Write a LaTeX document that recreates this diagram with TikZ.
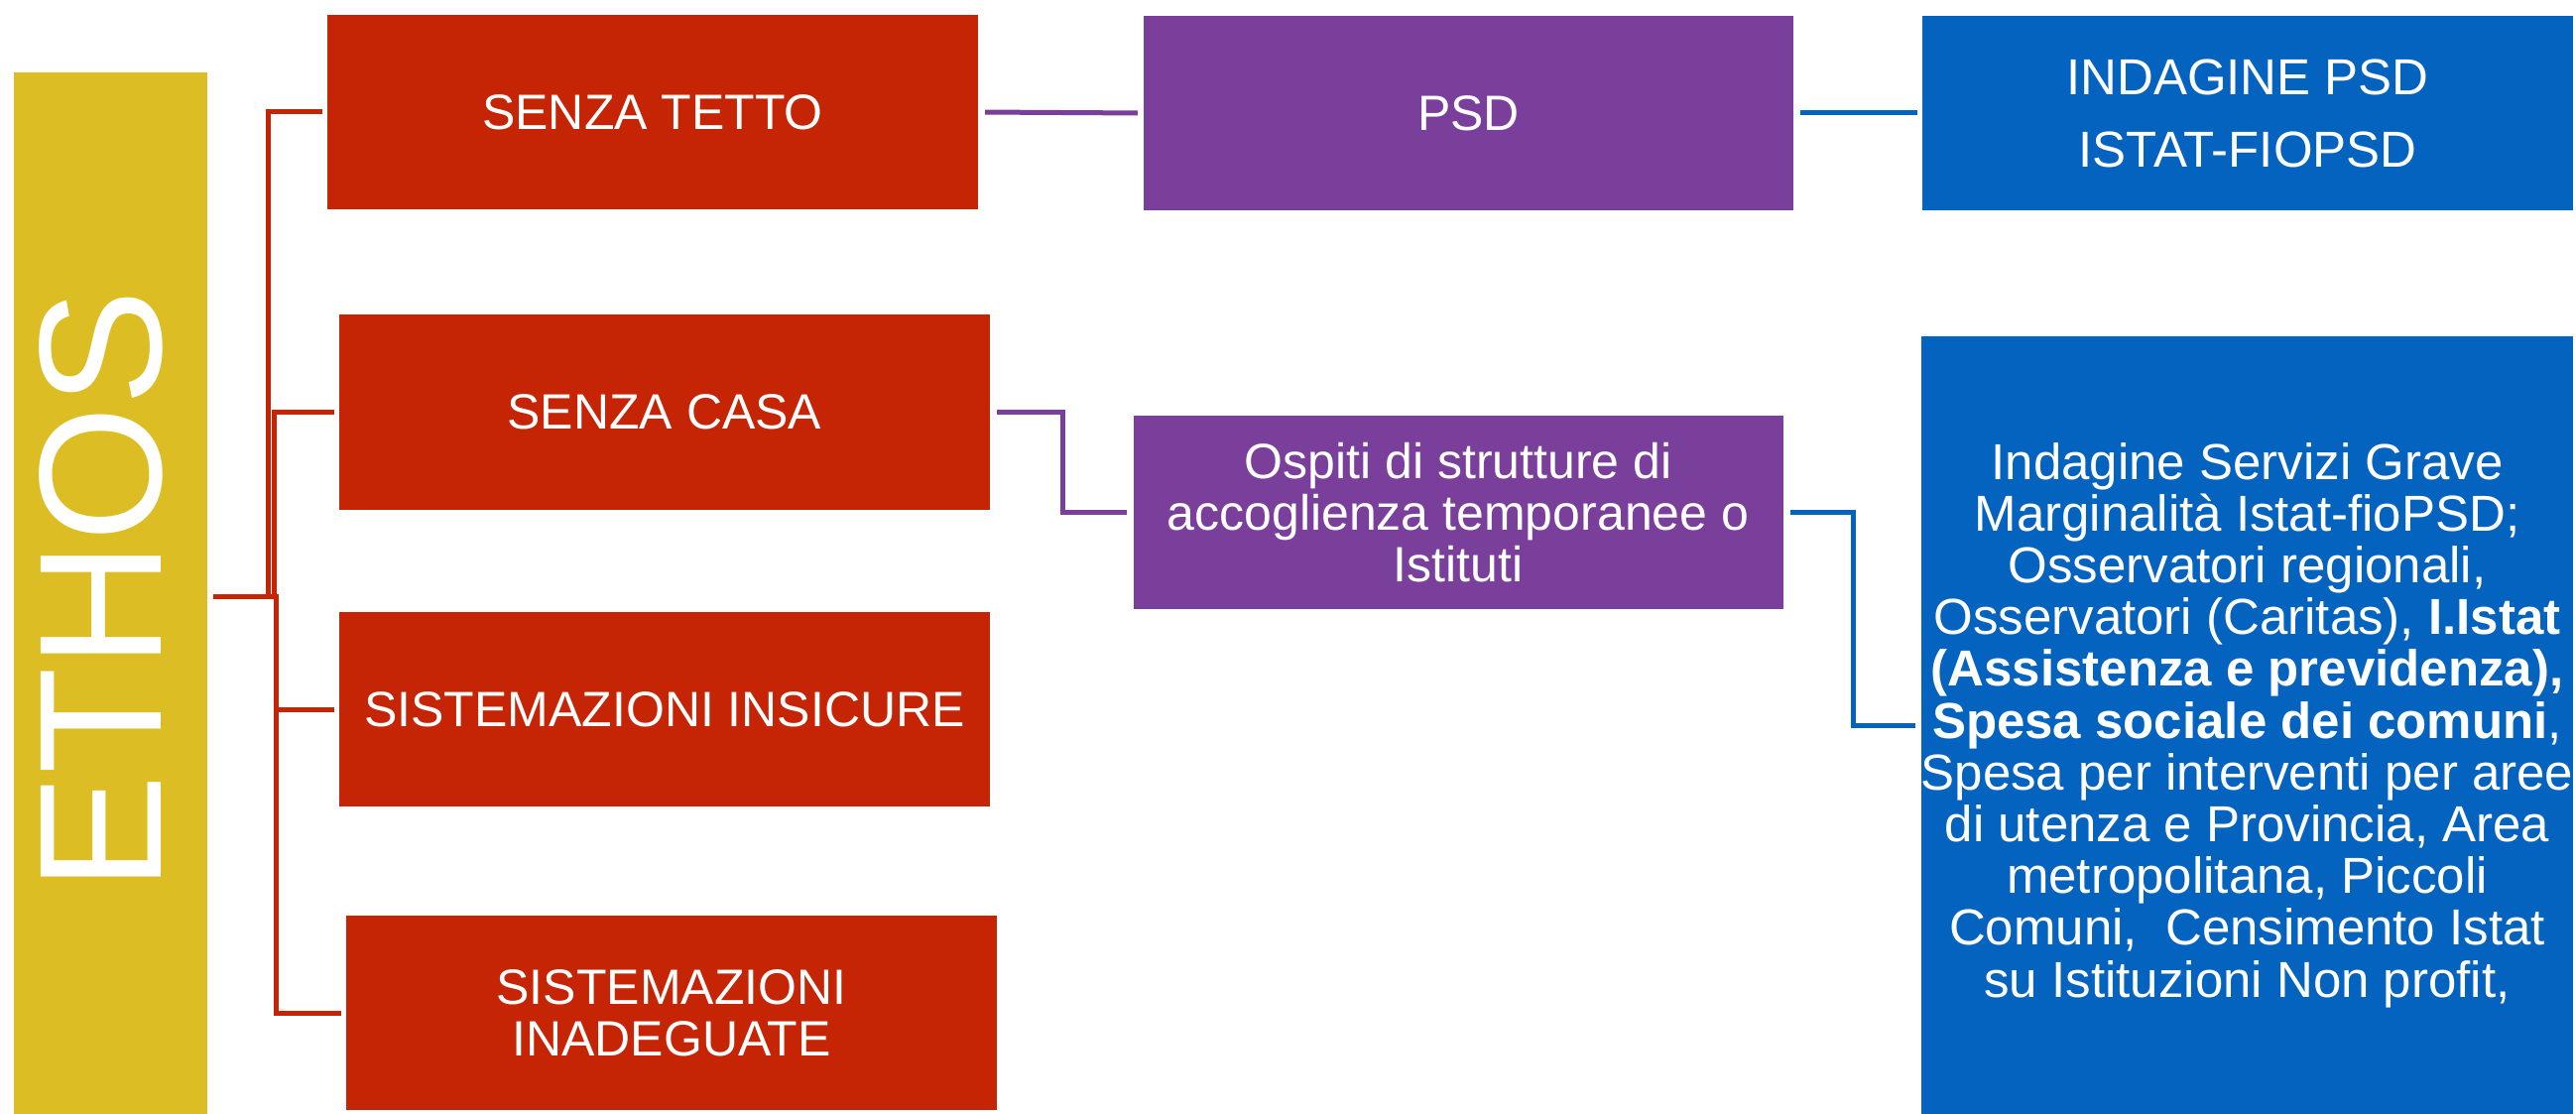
\documentclass[tikz,border=0pt]{standalone}
\usepackage{fontspec}
\setmainfont{Liberation Sans}
\definecolor{ethosyellow}{HTML}{DCBE24}
\definecolor{cred}{HTML}{C52405}
\definecolor{cpurple}{HTML}{7A3F9A}
\definecolor{cblue}{HTML}{0563C0}
\begin{document}
\begin{tikzpicture}[x=1pt,y=-1pt,
  box/.style={rectangle, inner sep=0pt, text=white, align=center,
    minimum width=656pt, minimum height=196pt,
    font=\fontsize{50}{52}\selectfont},
  redbox/.style={box, fill=cred},
  purplebox/.style={box, fill=cpurple},
  bluebox/.style={box, fill=cblue},
  link/.style={line width=5pt, line join=miter},
  redlink/.style={link, draw=cred, shorten <=6pt, shorten >=5pt},
  purplelink/.style={link, draw=cpurple, shorten <=7pt, shorten >=6pt},
  bluelink/.style={link, draw=cblue, shorten <=7pt, shorten >=5pt}]
\useasboundingbox (0,0) rectangle (2597,1123);
% ETHOS column
\node[rectangle, fill=ethosyellow, inner sep=0pt, minimum width=195pt, minimum height=1050pt] (ethos) at (111.5,598) {};
\node[rotate=90, text=white, inner sep=0pt, font=\fontsize{176}{176}\selectfont] (ethoslabel) at (102,595) {ETHOS};
% red boxes
\node[redbox] (tetto) at (658,113) {SENZA TETTO};
\node[redbox] (casa) at (670,415.5) {SENZA CASA};
\node[redbox] (insicure) at (670,715) {SISTEMAZIONI INSICURE};
\node[redbox] (inadeguate) at (677,1021) {SISTEMAZIONI\\INADEGUATE};
% purple boxes
\node[purplebox, minimum width=655pt] (psd) at (1480.5,114) {PSD};
\node[purplebox, minimum width=655pt, minimum height=195pt] (ospiti) at (1470,516.5) {Ospiti di strutture di\\accoglienza temporanee o\\Istituti};
% blue boxes
\node[bluebox, font=\fontsize{51}{73}\selectfont] (indagine) at (2266,114) {INDAGINE PSD\\ISTAT-FIOPSD};
\node[bluebox, minimum width=657pt, minimum height=784pt, font=\fontsize{51}{52.2}\selectfont] (servizi) at (2265.5,731) {Indagine Servizi Grave\\
Marginalità Istat-fioPSD;\\
Osservatori regionali,\\
Osservatori (Caritas), \textbf{I.Istat}\\
\textbf{(Assistenza e previdenza),}\\
\textbf{Spesa sociale dei comuni},\\
Spesa per interventi per aree\\
di utenza e Provincia, Area\\
metropolitana, Piccoli\\
Comuni,~~Censimento Istat\\
su Istituzioni Non profit,};
% helper coordinates for connector elbows
\coordinate (vA) at (270,0);
\coordinate (vB) at (276,0);
\coordinate (vC) at (278,0);
\coordinate (vD) at (1071,0);
\coordinate (vE) at (1868,0);
% red connectors
\draw[redlink] ([yshift=-3pt]ethos.east) -| (vA |- tetto.west) -- (tetto.west);
\draw[redlink] ([yshift=-3pt]ethos.east) -| (vB |- casa.west) -- (casa.west);
\draw[redlink] ([yshift=-3pt]ethos.east) -| (vC |- insicure.west) -- (insicure.west);
\draw[redlink] ([yshift=-3pt]ethos.east) -| (vC |- inadeguate.west) -- (inadeguate.west);
% purple connectors
\draw[purplelink] (tetto.east) -- (psd.west);
\draw[purplelink] (casa.east) -| (vD |- ospiti.west) -- (ospiti.west);
% blue connectors
\draw[bluelink] (psd.east) -- (indagine.west);
\draw[bluelink] (ospiti.east) -| (vE |- servizi.west) -- (servizi.west);
\end{tikzpicture}
\end{document}
